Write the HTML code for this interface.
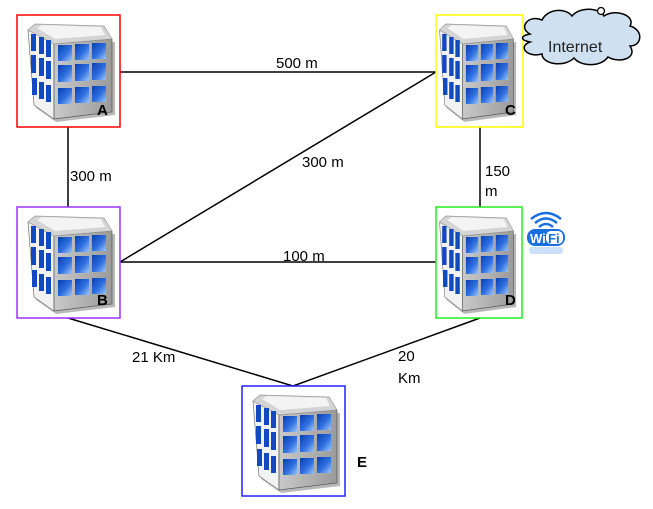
<!DOCTYPE html>
<html><head><meta charset="utf-8"><style>
html,body{margin:0;padding:0;background:#fff;}
svg{display:block;font-family:"Liberation Sans",sans-serif;}
</style></head><body>
<svg width="653" height="509" viewBox="0 0 653 509" xmlns="http://www.w3.org/2000/svg">
<defs>
<linearGradient id="win" x1="0" y1="0" x2="1" y2="1">
<stop offset="0" stop-color="#0a3fb0"/><stop offset="0.55" stop-color="#2f6fe0"/><stop offset="1" stop-color="#9cc6f8"/>
</linearGradient>
<linearGradient id="front" x1="0" y1="0" x2="1" y2="0">
<stop offset="0" stop-color="#c9c9c9"/><stop offset="1" stop-color="#9a9a9a"/>
</linearGradient>
<g id="bld">
<polygon points="13,18 39,32 39,107 19,93" fill="#000" opacity="0.25"/>
<polygon points="39,32 98,27 98,100 39,107" fill="#333" opacity="0.35"/>
<polygon points="11,15 37,29 37,104 17,90" fill="#f2f2f2" stroke="#777" stroke-width="0.7"/>
<polygon points="37,29 95,24 95,97 37,104" fill="url(#front)" stroke="#555" stroke-width="0.7"/>
<polygon points="11,15 18,9 87,11 95,24 37,29" fill="#d4d4d4" stroke="#999" stroke-width="0.7"/>
<polygon points="20,13 25,10 84,12 88,20 38,24" fill="#f4f4f4"/>
<g fill="url(#win)">
<rect x="41" y="30" width="14" height="16"/><rect x="58" y="29" width="14" height="16"/><rect x="75" y="28" width="14" height="16"/>
<rect x="41" y="50" width="14" height="17"/><rect x="58" y="49" width="14" height="17"/><rect x="75" y="48" width="14" height="17"/>
<rect x="41" y="73" width="14" height="16"/><rect x="58" y="72" width="14" height="16"/><rect x="75" y="71" width="14" height="16"/>
</g>
<g fill="#1248c0">
<rect x="14" y="19" width="5" height="17"/><rect x="22" y="22" width="5" height="17"/><rect x="29" y="25" width="5" height="17"/>
<rect x="14" y="40" width="5" height="18"/><rect x="22" y="43" width="5" height="18"/><rect x="29" y="46" width="5" height="18"/>
<rect x="15" y="63" width="5" height="17"/><rect x="22" y="67" width="5" height="17"/><rect x="29" y="70" width="5" height="17"/>
</g>
</g>
</defs>
<g stroke="#000" stroke-width="1.5" fill="none">
<line x1="120" y1="72" x2="436" y2="72"/>
<line x1="68" y1="127" x2="68" y2="207"/>
<line x1="120" y1="262" x2="436" y2="72"/>
<line x1="120" y1="262" x2="436" y2="262"/>
<line x1="480" y1="127" x2="480" y2="207"/>
<line x1="68" y1="318" x2="293" y2="386"/>
<line x1="480" y1="318" x2="293" y2="386"/>
</g>
<use href="#bld" x="17" y="15"/>
<use href="#bld" x="17" y="207"/>
<use href="#bld" x="429" y="15" transform="translate(436,15) scale(0.88,1) translate(-436,-15)"/>
<use href="#bld" x="429" y="207" transform="translate(436,207) scale(0.88,1) translate(-436,-207)"/>
<use href="#bld" x="242" y="386"/>
<rect x="17" y="15" width="103" height="112" fill="none" stroke="#f00" stroke-width="1.5"/>
<rect x="436" y="15" width="87" height="112" fill="none" stroke="#ff0" stroke-width="1.5"/>
<rect x="17" y="207" width="103" height="111" fill="none" stroke="#9b30ff" stroke-width="1.5"/>
<rect x="436" y="207" width="86" height="111" fill="none" stroke="#2e2" stroke-width="1.5"/>
<rect x="242" y="386" width="103" height="110" fill="none" stroke="#22f" stroke-width="1.5"/>
<g font-size="15" font-weight="bold" fill="#000">
<text x="97" y="115">A</text><text x="505" y="115">C</text>
<text x="97" y="305">B</text><text x="505" y="305">D</text>
<text x="357" y="467">E</text>
</g>
<g font-size="15" fill="#000">
<text x="276" y="68">500 m</text>
<text x="70" y="181">300 m</text>
<text x="302" y="167">300 m</text>
<text x="283" y="261">100 m</text>
<text x="485" y="176">150</text>
<text x="485" y="196">m</text>
<text x="132" y="362">21 Km</text>
<text x="398" y="361">20</text>
<text x="398" y="383">Km</text>
</g>
<path d="M530,34 C518,28 528,14 542,20 C548,8 566,8 572,16 C580,6 600,8 604,16 C616,8 636,16 630,26 C644,30 642,46 630,46 C638,58 620,64 608,57 C600,68 580,66 574,58 C564,68 542,64 542,54 C526,58 518,46 530,42 C520,40 520,36 530,34 Z" fill="#cfe0f0" stroke="#000" stroke-width="1.5"/>
<circle cx="601" cy="11" r="3.5" fill="#fff" stroke="#000" stroke-width="1.3"/>
<text x="548" y="52" font-size="16" fill="#222">Internet</text>
<g fill="none" stroke="#1a6fe0" stroke-width="2.5">
<path d="M531,219 Q546,207 561,219"/><path d="M535,223 Q546,214 557,223"/><path d="M539,227 Q546,221 553,227"/>
</g>
<rect x="527" y="229" width="38" height="17" rx="8" fill="#1a6fe0"/>
<rect x="546" y="231" width="17" height="13" rx="5" fill="#fff"/>
<text x="530" y="243" font-size="13" font-weight="bold" fill="#fff">Wi</text>
<text x="548" y="243" font-size="13" font-weight="bold" fill="#1a6fe0">Fi</text>
<rect x="529" y="247" width="34" height="7" rx="3" fill="#cde0fa"/>
</svg>
</body></html>
